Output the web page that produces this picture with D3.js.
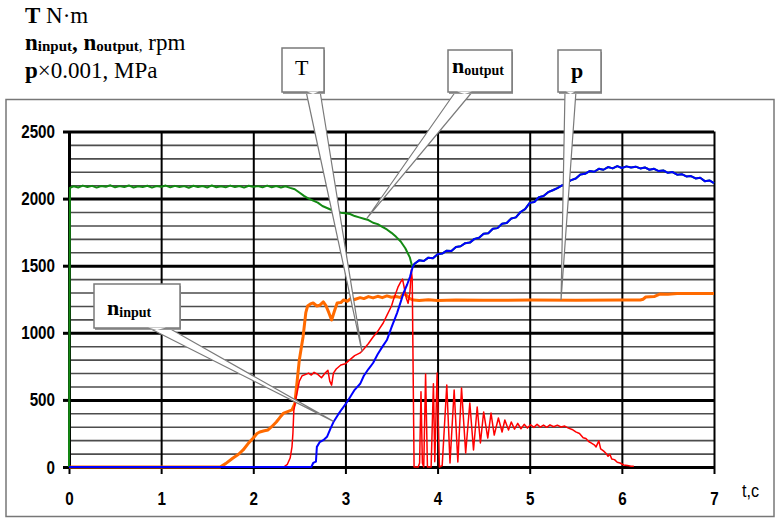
<!DOCTYPE html>
<html>
<head>
<meta charset="utf-8">
<script src="https://cdn.jsdelivr.net/npm/d3@7"></script>
<style>
  body { margin: 0; background: #fff; }
  svg { display: block; }
</style>
</head>
<body>
<div id="chart"></div>
<script>
// time ticks (t, s) and value ticks
const tTicks = [0, 1, 2, 3, 4, 5, 6, 7];
const vTicks = [0, 500, 1000, 1500, 2000, 2500];
const vGrid = [0, 100, 200, 300, 400, 500, 600, 700, 800, 900, 1000, 1100, 1200, 1300, 1400,
    1500, 1600, 1700, 1800, 1900, 2000, 2100, 2200, 2300, 2400, 2500];

// n_input, rpm  [t, value]
const nInput = [[0, 0], [2.63, 0], [2.65, 30], [2.68, 40], [2.69, 150], [2.72, 185], [2.76, 200],
    [2.8, 225], [2.84, 290], [2.87, 335], [2.92, 390], [2.96, 430], [3.01, 477], [3.05, 520],
    [3.1, 575], [3.16, 620], [3.2, 680], [3.25, 730], [3.3, 775], [3.35, 840], [3.4, 895],
    [3.45, 946], [3.5, 1040], [3.56, 1147], [3.6, 1230], [3.63, 1296], [3.67, 1360], [3.7, 1416],
    [3.73, 1490], [3.75, 1515], [3.8, 1540], [3.85, 1535], [3.9, 1560], [3.95, 1555], [4.0, 1585],
    [4.05, 1590], [4.1, 1612], [4.15, 1610], [4.2, 1640], [4.25, 1645], [4.3, 1668], [4.35, 1672],
    [4.4, 1700], [4.45, 1708], [4.5, 1738], [4.55, 1742], [4.6, 1775], [4.65, 1780], [4.7, 1812],
    [4.75, 1818], [4.8, 1852], [4.85, 1860], [4.9, 1900], [4.95, 1922], [5.0, 1968], [5.05, 1975],
    [5.1, 2010], [5.15, 2020], [5.2, 2048], [5.25, 2062], [5.3, 2078], [5.35, 2098], [5.4, 2110],
    [5.45, 2138], [5.5, 2150], [5.55, 2180], [5.6, 2185], [5.65, 2205], [5.7, 2200], [5.75, 2222],
    [5.8, 2215], [5.85, 2235], [5.9, 2225], [5.95, 2242], [6.0, 2228], [6.05, 2240], [6.1, 2232],
    [6.15, 2238], [6.2, 2225], [6.25, 2232], [6.3, 2215], [6.35, 2222], [6.4, 2205], [6.45, 2210],
    [6.5, 2192], [6.55, 2198], [6.6, 2178], [6.65, 2182], [6.7, 2165], [6.75, 2168], [6.8, 2150],
    [6.85, 2155], [6.9, 2130], [6.95, 2135], [7.0, 2115]];

// n_output, rpm (merges into n_input after ~3.72 s)
const nOutput = [[0, 0], [0.01, 2080], [0.05, 2092], [0.1, 2083], [0.15, 2097], [0.2, 2086],
    [0.25, 2095], [0.3, 2082], [0.35, 2094], [0.4, 2088], [0.45, 2099], [0.5, 2084], [0.55, 2093],
    [0.6, 2086], [0.65, 2098], [0.7, 2083], [0.75, 2092], [0.8, 2087], [0.85, 2096], [0.9, 2082],
    [0.95, 2094], [1.0, 2088], [1.05, 2097], [1.1, 2084], [1.15, 2095], [1.2, 2086], [1.25, 2093],
    [1.3, 2081], [1.35, 2096], [1.4, 2087], [1.45, 2094], [1.5, 2083], [1.55, 2098], [1.6, 2085],
    [1.65, 2092], [1.7, 2084], [1.75, 2097], [1.8, 2086], [1.85, 2094], [1.9, 2082], [1.95, 2096],
    [2.0, 2088], [2.05, 2093], [2.1, 2084], [2.15, 2097], [2.2, 2085], [2.25, 2094], [2.3, 2083],
    [2.35, 2092], [2.4, 2080], [2.45, 2070], [2.5, 2045], [2.55, 2020], [2.6, 2000], [2.65, 1985],
    [2.7, 1970], [2.75, 1945], [2.8, 1930], [2.85, 1915], [2.9, 1905], [2.95, 1895], [3.0, 1890],
    [3.05, 1885], [3.1, 1870], [3.15, 1860], [3.2, 1850], [3.25, 1840], [3.3, 1820], [3.35, 1810],
    [3.4, 1790], [3.45, 1770], [3.5, 1745], [3.55, 1715], [3.6, 1680], [3.65, 1630], [3.7, 1560],
    [3.72, 1505]];

// T, N·m
const torque = [[0, 0], [2.33, 0], [2.37, 20], [2.4, 67], [2.42, 150], [2.43, 250], [2.44, 420],
    [2.46, 500], [2.48, 570], [2.5, 640], [2.53, 680], [2.57, 690], [2.6, 700], [2.63, 685],
    [2.66, 705], [2.7, 690], [2.74, 665], [2.78, 700], [2.81, 720], [2.83, 640], [2.85, 610],
    [2.87, 700], [2.9, 730], [2.95, 760], [3.0, 770], [3.05, 800], [3.1, 830], [3.16, 850],
    [3.2, 880], [3.25, 920], [3.3, 969], [3.35, 1010], [3.41, 1073], [3.45, 1130], [3.5, 1200],
    [3.52, 1244], [3.57, 1340], [3.6, 1380], [3.62, 1400], [3.64, 1330], [3.66, 1260], [3.68, 1220],
    [3.7, 1300], [3.715, 1470], [3.725, 1400], [3.735, 700], [3.745, 0], [3.79, 0], [3.805, 30],
    [3.82, 560], [3.835, 30], [3.85, 0], [3.87, 693], [3.89, 0], [3.93, 0], [3.955, 620], [3.97, 40],
    [3.995, 700], [4.02, 0], [4.05, 10], [4.1, 611], [4.135, 30], [4.18, 574], [4.22, 37], [4.26, 589],
    [4.305, 104], [4.35, 477], [4.39, 127], [4.43, 447], [4.465, 179], [4.5, 410], [4.545, 216],
    [4.58, 402], [4.615, 238], [4.66, 365], [4.7, 261], [4.73, 350], [4.77, 276], [4.8, 335],
    [4.835, 282], [4.87, 325], [4.905, 285], [4.94, 318], [4.975, 290], [5.01, 315], [5.045, 295],
    [5.08, 318], [5.115, 297], [5.15, 312], [5.185, 296], [5.22, 314], [5.26, 300], [5.3, 312],
    [5.34, 298], [5.38, 305], [5.42, 290], [5.46, 280], [5.5, 262], [5.54, 250], [5.58, 218],
    [5.61, 212], [5.64, 190], [5.67, 178], [5.7, 165], [5.72, 150], [5.75, 195], [5.77, 135],
    [5.8, 120], [5.83, 100], [5.85, 80], [5.87, 95], [5.89, 60], [5.92, 55], [5.95, 35], [5.98, 30],
    [6.02, 15], [6.06, 12], [6.1, 5], [6.13, 5]];

// p x 0.001, MPa
const pressure = [[0, 0], [1.64, 0], [1.7, 25], [1.78, 67], [1.84, 95], [1.89, 127], [1.95, 180],
    [2.0, 216], [2.04, 250], [2.07, 261], [2.12, 270], [2.16, 276], [2.2, 300], [2.25, 335],
    [2.29, 370], [2.33, 402], [2.38, 415], [2.42, 425], [2.45, 470], [2.47, 600], [2.5, 800],
    [2.54, 969], [2.57, 1150], [2.59, 1200], [2.62, 1215], [2.65, 1222], [2.69, 1200], [2.72, 1205],
    [2.76, 1230], [2.79, 1200], [2.82, 1150], [2.85, 1095], [2.88, 1160], [2.91, 1222], [2.95, 1225],
    [2.98, 1245], [3.02, 1235], [3.06, 1255], [3.1, 1248], [3.16, 1262], [3.2, 1255], [3.25, 1270],
    [3.3, 1260], [3.35, 1272], [3.4, 1262], [3.45, 1275], [3.5, 1265], [3.55, 1270], [3.6, 1262],
    [3.63, 1296], [3.66, 1280], [3.7, 1255], [3.74, 1244], [3.8, 1240], [3.9, 1246], [4.0, 1240],
    [4.2, 1245], [4.5, 1242], [5.0, 1244], [5.5, 1243], [6.0, 1244], [6.2, 1244], [6.23, 1250],
    [6.26, 1267], [6.35, 1270], [6.41, 1289], [6.5, 1287], [6.6, 1292], [7.0, 1292]];

const width = 776;
const height = 520;
const x = d3.scaleLinear().domain([0, 7]).range([69, 714]);
const y = d3.scaleLinear().domain([0, 2500]).range([467, 131.5]);
const plotW = x(7) - x(0);
const plotH = y(0) - y(2500);

const svg = d3.select("#chart").append("svg")
    .attr("width", width)
    .attr("height", height);

// title lines
const serif = "'Liberation Serif', 'Times New Roman', serif";
const l1 = svg.append("text").attr("font-family", serif).attr("font-size", 23).attr("x", 25).attr("y", 23);
l1.append("tspan").attr("font-weight", "bold").text("T");
l1.append("tspan").text(" N·m");

const l2 = svg.append("text").attr("font-family", serif).attr("font-size", 23).attr("x", 25).attr("y", 50);
l2.append("tspan").attr("font-weight", "bold").text("n");
l2.append("tspan").attr("font-weight", "bold").attr("font-size", 15).attr("dy", 1).text("input");
l2.append("tspan").attr("font-weight", "bold").attr("dy", -1).text(", ");
l2.append("tspan").attr("font-weight", "bold").text("n");
l2.append("tspan").attr("font-weight", "bold").attr("font-size", 15).attr("dy", 1).text("output");
l2.append("tspan").attr("font-size", 15).text(",");
l2.append("tspan").attr("dy", -1).text(" rpm");

const l3 = svg.append("text").attr("font-family", serif).attr("font-size", 23).attr("x", 25).attr("y", 78);
l3.append("tspan").attr("font-weight", "bold").text("p");
l3.append("tspan").text("×0.001, MPa");

// outer frame
svg.append("rect")
    .attr("x", 6).attr("y", 99.5)
    .attr("width", 768).attr("height", 417)
    .attr("fill", "none")
    .attr("stroke", "#777")
    .attr("stroke-width", 1.5);

// horizontal grid every 100
svg.append("g")
    .attr("transform", `translate(${x(0)},0)`)
    .call(d3.axisLeft(y).tickValues(vGrid).tickSize(-plotW).tickFormat(""))
    .call(g => g.select(".domain").remove())
    .call(g => g.selectAll(".tick line")
        .attr("stroke", d => d % 500 === 0 ? "#000" : "#4d4d4d")
        .attr("stroke-width", d => d % 500 === 0 ? 3 : 1.6));

// vertical grid at every second
svg.append("g")
    .attr("transform", `translate(0,${y(0)})`)
    .call(d3.axisBottom(x).tickValues(tTicks).tickSize(-plotH).tickFormat(""))
    .call(g => g.select(".domain").remove())
    .call(g => g.selectAll(".tick line")
        .attr("stroke", "#000")
        .attr("stroke-width", d => d === 0 ? 3 : 2));

const sans = "'Liberation Sans', Arial, sans-serif";
const squeeze = 0.8;

// y axis ticks and labels
svg.append("g")
    .attr("transform", `translate(${x(0)},0)`)
    .call(d3.axisLeft(y).tickValues(vTicks).tickFormat(d3.format("d")).tickSize(6).tickSizeOuter(0))
    .call(g => g.select(".domain").remove())
    .call(g => g.selectAll(".tick line").attr("stroke", "#000").attr("stroke-width", 3))
    .call(g => g.selectAll(".tick text")
        .attr("font-family", sans)
        .attr("font-size", 19)
        .attr("font-weight", "bold")
        .attr("fill", "#000")
        .attr("x", -14 / squeeze)
        .attr("transform", `scale(${squeeze},1)`));

// x axis ticks and labels
svg.append("g")
    .attr("transform", `translate(0,${y(0)})`)
    .call(d3.axisBottom(x).tickValues(tTicks).tickFormat(d3.format("d")).tickSize(7).tickSizeOuter(0))
    .call(g => g.select(".domain").remove())
    .call(g => g.selectAll(".tick line").attr("stroke", "#000").attr("stroke-width", 2))
    .call(g => g.selectAll(".tick text")
        .attr("font-family", sans)
        .attr("font-size", 19)
        .attr("font-weight", "bold")
        .attr("fill", "#000")
        .attr("y", 25)
        .attr("transform", `scale(${squeeze},1)`)
        .attr("x", 0));

svg.append("text")
    .attr("font-family", sans)
    .attr("font-size", 19)
    .attr("transform", `translate(742,497) scale(0.85,1)`)
    .attr("fill", "#000")
    .text("t,c");

// series
const line = d3.line().x(d => x(d[0])).y(d => y(d[1]));
const series = [
    { data: pressure, color: "#ff6a00", w: 3 },
    { data: nOutput.concat(nInput.filter(d => d[0] > 3.72)), color: "#138a13", w: 2 },
    { data: torque, color: "#ff0000", w: 1.5 },
    { data: nInput, color: "#0000ff", w: 2 }
];
svg.append("g").selectAll("path")
    .data(series)
    .join("path")
    .attr("fill", "none")
    .attr("stroke", d => d.color)
    .attr("stroke-width", d => d.w)
    .attr("stroke-linejoin", "round")
    .attr("d", d => line(d.data));

// callouts: box in pixels, tip anchored to data
const callouts = [
    { box: [282, 48, 42, 44], base: [306, 320], tip: [3.18, 860], label: [["T", false, 22]], lx: 295, ly: 75 },
    { box: [448, 50, 64, 42], base: [456, 473], tip: [3.23, 1850], label: [["n", true, 22], ["output", true, 14]], lx: 452, ly: 73 },
    { box: [558, 50, 43, 42], base: [565, 576], tip: [5.34, 1244], label: [["p", true, 22]], lx: 571, ly: 78 },
    { box: [94, 284, 86, 44], base: [147, 167], tip: [2.87, 340], label: [["n", true, 22], ["input", true, 14]], lx: 107, ly: 315 }
];

const co = svg.append("g").selectAll("g").data(callouts).join("g");
co.append("polygon")
    .attr("points", d => {
        const by = d.box[1] + d.box[3] - 1;
        return `${d.base[0]},${by} ${x(d.tip[0])},${y(d.tip[1])} ${d.base[1]},${by}`;
    })
    .attr("fill", "#fff")
    .attr("stroke", "#7a7a7a")
    .attr("stroke-width", 1.2);
co.append("rect")
    .attr("x", d => d.box[0] + 1).attr("y", d => d.box[1] + 2)
    .attr("width", d => d.box[2]).attr("height", d => d.box[3])
    .attr("fill", "#9a9a9a");
co.append("rect")
    .attr("x", d => d.box[0]).attr("y", d => d.box[1])
    .attr("width", d => d.box[2]).attr("height", d => d.box[3])
    .attr("fill", "#fff")
    .attr("stroke", "#7a7a7a")
    .attr("stroke-width", 1.5);
co.append("polygon")
    .attr("points", d => {
        const by = d.box[1] + d.box[3];
        return `${d.base[0] + 1},${by - 0.5} ${d.base[1] - 1},${by - 0.5} ${(d.base[0] + d.base[1]) / 2},${by + 2}`;
    })
    .attr("fill", "#fff");
co.append("text")
    .attr("font-family", serif)
    .attr("fill", "#000")
    .attr("x", d => d.lx)
    .attr("y", d => d.ly)
    .each(function (d) {
        const t = d3.select(this);
        d.label.forEach(([s, b, fs], i) => {
            t.append("tspan")
                .attr("font-weight", b ? "bold" : "normal")
                .attr("font-size", fs)
                .attr("dy", i > 0 ? 2 : 0)
                .text(s);
        });
    });
</script>
</body>
</html>
